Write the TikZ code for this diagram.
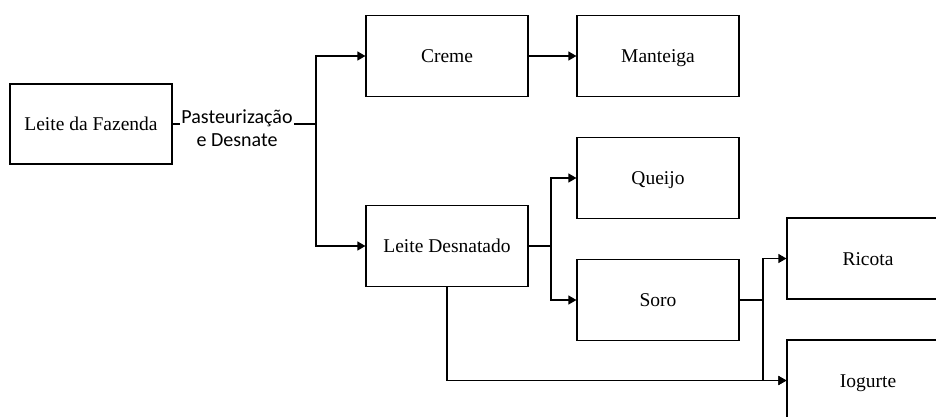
\documentclass[tikz,border=0pt]{standalone}
\usepackage{fontspec}
\setmainfont{Liberation Serif}
\newfontfamily\lblfont{Carlito}
\usetikzlibrary{arrows.meta}
\begin{document}
\begin{tikzpicture}[x=1pt,y=-1pt,
  stagebox/.style={draw, line width=1.2pt, minimum width=162pt, minimum height=81pt,
    inner sep=0pt, text height=13pt, text depth=0pt,
    font=\fontsize{19.5}{22}\selectfont},
  flow/.style={line width=1.2pt},
  flowarrow/.style={flow, -{Triangle[length=8pt,width=9pt]}},
  steplabel/.style={inner xsep=1pt, inner ysep=0pt, align=center,
    font=\lblfont\fontsize{20}{23.5}\selectfont}]
\useasboundingbox (0,0) rectangle (936,416);
\clip (0,0) rectangle (936,416);

% processing stages
\node[stagebox, minimum height=80pt] (faz) at (91,124) {Leite da Fazenda};
\node[stagebox] (creme)   at (447,56)    {Creme};
\node[stagebox] (mant)    at (658,56)    {Manteiga};
\node[stagebox] (queijo)  at (658,178)   {Queijo};
\node[stagebox] (desn)    at (447,246)   {Leite Desnatado};
\node[stagebox] (soro)    at (658,300)   {Soro};
\node[stagebox] (ricota)  at (868,258.5) {Ricota};
\node[stagebox] (iogurte) at (868,380.5) {Iogurte};

% branching points
\coordinate (j1) at (316,124);
\coordinate (j2) at (551,246);
\coordinate (j3) at (763,300);

% separation step
\node[steplabel] (sep) at (237,128) {Pasteurização\\e Desnate};
\draw[flow] (faz.east |- j1) -- (sep.west |- j1);
\draw[flow] (sep.east |- j1) -- (j1);
\draw[flowarrow] (j1) |- (creme.west);
\draw[flowarrow] (j1) |- (desn.west);

\draw[flowarrow] (creme) -- (mant);

\draw[flow] (desn.east) -- (j2);
\draw[flowarrow] (j2) |- (queijo.west);
\draw[flowarrow] (j2) |- (soro.west);

\draw[flow] (soro.east) -- (j3);
\draw[flowarrow] (j3) |- (ricota.west);
\draw[flowarrow] (j3) |- (iogurte.west);

\draw[flowarrow] (desn.south) |- (iogurte.west);
\end{tikzpicture}
\end{document}
